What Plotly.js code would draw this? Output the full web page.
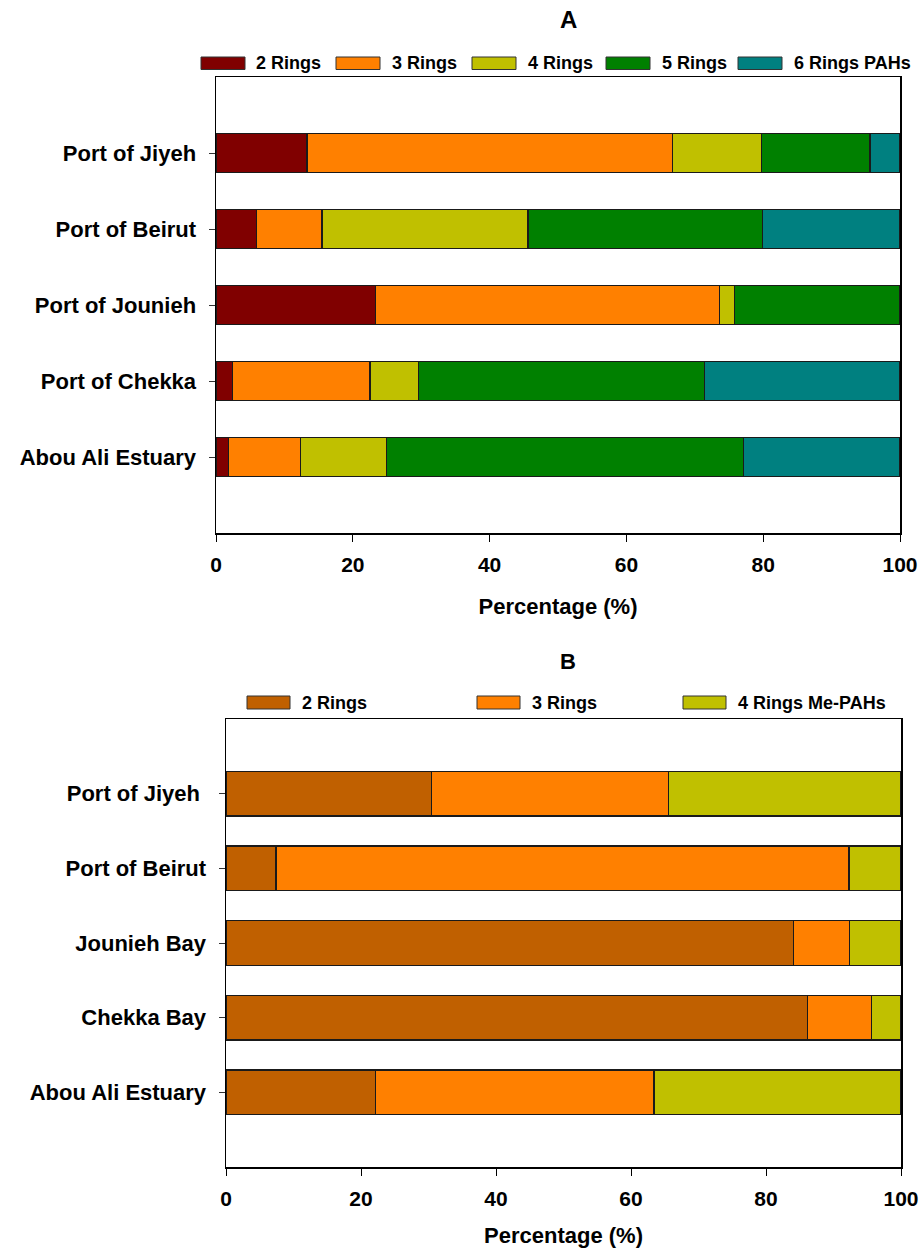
<!DOCTYPE html>
<html>
<head>
<meta charset="utf-8">
<script src="https://cdn.plot.ly/plotly-3.0.1.min.js"></script>
<style>html,body{margin:0;padding:0;background:#fff;}#chart{width:920px;height:1248px;}</style>
</head>
<body>
<div id="chart"></div>
<script>
// ---------- DATA ----------
// Panel A: PAHs by ring number (bottom to top order)
const categoriesA = ['Abou Ali Estuary', 'Port of Chekka', 'Port of Jounieh', 'Port of Beirut', 'Port of Jiyeh'];
const seriesNamesA = ['2 Rings', '3 Rings', '4 Rings', '5 Rings', '6 Rings PAHs'];
const ringsA2 = [1.8, 2.4, 23.3, 5.9, 13.3];
const ringsA3 = [10.5, 20.1, 50.3, 9.6, 53.4];
const ringsA4 = [12.6, 7.1, 2.2, 30.1, 13.1];
const ringsA5 = [52.2, 41.8, 24.2, 34.3, 15.8];
const ringsA6 = [22.9, 28.6, 0.0, 20.1, 4.4];

// Panel B: Me-PAHs by ring number (bottom to top order)
const categoriesB = ['Abou Ali Estuary', 'Chekka Bay', 'Jounieh Bay', 'Port of Beirut', 'Port of Jiyeh '];
const seriesNamesB = ['2 Rings', '3 Rings', '4 Rings Me-PAHs'];
const ringsB2 = [22.1, 86.2, 84.1, 7.4, 30.4];
const ringsB3 = [41.3, 9.4, 8.3, 84.9, 35.2];
const ringsB4 = [36.6, 4.4, 7.6, 7.7, 34.4];

const xTicks = [0, 20, 40, 60, 80, 100];

// ---------- STYLE ----------
const colorsA = ['#800000', '#FF8000', '#C0C000', '#008000', '#008080'];
const colorsB = ['#C06000', '#FF8000', '#C0C000'];
const FONT = 'Liberation Sans, Arial, sans-serif';
const W = 920, H = 1248;
const px = x => x / W;
const py = y => 1 - y / H;

const valuesA = [ringsA2, ringsA3, ringsA4, ringsA5, ringsA6];
const valuesB = [ringsB2, ringsB3, ringsB4];

const traces = [];
valuesA.forEach((vals, i) => traces.push({
  type: 'bar', orientation: 'h', x: vals, y: categoriesA, name: seriesNamesA[i],
  xaxis: 'x', yaxis: 'y', width: 0.52, showlegend: false, hoverinfo: 'x+y+name',
  marker: {color: colorsA[i], line: {color: '#1a1a1a', width: 1.2}}
}));
valuesB.forEach((vals, i) => traces.push({
  type: 'bar', orientation: 'h', x: vals, y: categoriesB, name: seriesNamesB[i],
  xaxis: 'x2', yaxis: 'y2', width: 0.60, showlegend: false, hoverinfo: 'x+y+name',
  marker: {color: colorsB[i], line: {color: '#1a1a1a', width: 1.2}}
}));

// Plot areas (pixels)
const boxA = {l: 216, r: 900, t: 77, b: 533};
const boxB = {l: 226, r: 901, t: 719, b: 1167};

function xAxis(box, anchor) {
  return {
    domain: [px(box.l), px(box.r)], anchor: anchor, range: [0, 100],
    tickvals: xTicks, ticks: 'outside', ticklen: 7, tickwidth: 1, tickcolor: '#000',
    showline: true, linecolor: '#000', linewidth: 1.5, mirror: true,
    showgrid: false, zeroline: false, fixedrange: true,
    tickfont: {family: FONT, size: 21, color: '#000', weight: 'bold'},
    ticklabelstandoff: 5,
    title: {text: 'Percentage (%)', font: {family: FONT, size: 22, color: '#000', weight: 'bold'}, standoff: 24}
  };
}
function yAxis(box, anchor, cats) {
  return {
    domain: [py(box.b), py(box.t)], anchor: anchor, type: 'category',
    categoryorder: 'array', categoryarray: cats, range: [-1, 5],
    ticks: 'outside', ticklen: 6, tickwidth: 1, tickcolor: '#333',
    showline: true, linecolor: '#000', linewidth: 1.5, mirror: true,
    showgrid: false, zeroline: false, fixedrange: true,
    tickfont: {family: FONT, size: 22, color: '#000', weight: 'bold'},
    ticklabelstandoff: 8
  };
}

// Custom legends (wide boxes like the original)
const shapes = [], annotations = [];
function legend(names, colors, boxX, textX, yTop, yBot, boxW) {
  names.forEach((n, i) => {
    shapes.push({type: 'rect', xref: 'paper', yref: 'paper',
      x0: px(boxX[i]), x1: px(boxX[i] + boxW), y0: py(yBot), y1: py(yTop),
      fillcolor: colors[i], line: {color: '#333', width: 1}});
    annotations.push({xref: 'paper', yref: 'paper', x: px(textX[i]), y: py((yTop + yBot) / 2),
      xanchor: 'left', yanchor: 'middle', showarrow: false, text: n,
      font: {family: FONT, size: 18, color: '#000', weight: 'bold'}});
  });
}
legend(seriesNamesA, colorsA, [201, 336, 472, 606, 738], [254, 390, 526, 660, 792], 57, 69.5, 44);
legend(seriesNamesB, colorsB, [247, 477, 683], [300, 530, 736], 696, 709, 43);

// Panel titles
annotations.push({xref: 'paper', yref: 'paper', x: px(568), y: py(20), xanchor: 'center', yanchor: 'middle',
  showarrow: false, text: 'A', font: {family: FONT, size: 24, color: '#000', weight: 'bold'}});
annotations.push({xref: 'paper', yref: 'paper', x: px(568), y: py(661), xanchor: 'center', yanchor: 'middle',
  showarrow: false, text: 'B', font: {family: FONT, size: 22, color: '#000', weight: 'bold'}});

const layout = {
  width: W, height: H, margin: {l: 0, r: 0, t: 0, b: 0},
  paper_bgcolor: '#fff', plot_bgcolor: '#fff',
  barmode: 'stack', showlegend: false,
  font: {family: FONT, color: '#000'},
  xaxis: xAxis(boxA, 'y'), yaxis: yAxis(boxA, 'x', categoriesA),
  xaxis2: xAxis(boxB, 'y2'), yaxis2: yAxis(boxB, 'x2', categoriesB),
  shapes: shapes, annotations: annotations
};

Plotly.newPlot('chart', traces, layout, {displayModeBar: false, staticPlot: true});
</script>
</body>
</html>
